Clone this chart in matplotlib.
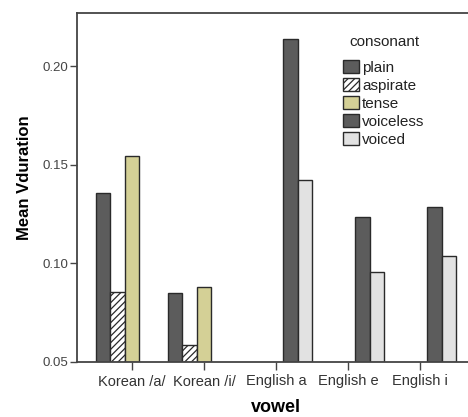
import matplotlib
matplotlib.use("Agg")
import matplotlib.pyplot as plt
from matplotlib.patches import Patch
import numpy as np

plt.rcParams['font.family'] = ['Liberation Sans', 'DejaVu Sans']
plt.rcParams['hatch.linewidth'] = 0.9

vowels = ["Korean /a/", "Korean /i/", "English a", "English e", "English i"]
consonants = ["plain", "aspirate", "tense", "voiceless", "voiced"]

# mean vowel duration per vowel and consonant type (None = no data)
plain = [0.1356, 0.0850, None, None, None]
aspirate = [0.0855, 0.0586, None, None, None]
tense = [0.1544, 0.0880, None, None, None]
voiceless = [None, None, 0.2136, 0.1235, 0.1285]
voiced = [None, None, 0.1420, 0.0956, 0.1035]

series = [plain, aspirate, tense, voiceless, voiced]
facecolors = ["#5c5c5c", "white", "#d4d096", "#5c5c5c", "#e2e2e2"]
hatches = [None, "/////", None, None, None]
edge = "#2a2a2a"
base = 0.05

W, H = 468, 417
fig = plt.figure(figsize=(W / 100, H / 100), dpi=100)
ax = fig.add_axes([77 / W, 55 / H, 1 - 77 / W, (362 - 13) / H])

x = np.arange(len(vowels))
width = 0.2
for i, (vals, fc, h) in enumerate(zip(series, facecolors, hatches)):
    for xi, v in zip(x, vals):
        if v is None:
            continue
        ax.bar(xi + (i - 2) * width, v - base, width, bottom=base,
               facecolor=fc, edgecolor=edge, linewidth=1.0, hatch=h)

ax.set_xlim(-0.764, 4.667)
ax.set_ylim(0.05, 0.2269)
ax.set_yticks([0.05, 0.10, 0.15, 0.20])
ax.set_yticklabels(["0.05", "0.10", "0.15", "0.20"])
ax.set_xticks(x)
ax.set_xticklabels(vowels)

for s in ["left", "bottom", "top"]:
    ax.spines[s].set_color("#444444")
    ax.spines[s].set_linewidth(1.3)
ax.spines["right"].set_visible(False)
ax.tick_params(axis="y", direction="out", length=5, width=1.0, color="#444444",
               labelsize=9.5, labelcolor="#444444", pad=1)
ax.tick_params(axis="x", direction="out", length=6, width=1.0, color="#444444",
               labelsize=10.5, labelcolor="#333333", pad=3)

ax.set_xlabel("vowel", fontsize=13, fontweight="bold")
ax.set_ylabel("Mean Vduration", fontsize=12, fontweight="bold")
ax.xaxis.set_label_coords((276 - 77) / (W - 77), -(407 - 362) / (362 - 13))
ax.xaxis.label.set_va("center")
ax.yaxis.set_label_coords(-(77 - 25) / (W - 77), (362 - 178) / (362 - 13))
ax.yaxis.label.set_va("center")

handles = [Patch(facecolor=fc, edgecolor=edge, hatch=h, linewidth=1.0)
           for fc, h in zip(facecolors, hatches)]
leg = ax.legend(handles, consonants, frameon=False,
                loc="upper left", bbox_to_anchor=(340 / W, 1 - 57 / H),
                bbox_transform=fig.transFigure, fontsize=11,
                handlelength=1.05, handleheight=0.9, handletextpad=0.2,
                labelspacing=0.22, borderpad=0.2, borderaxespad=0)
for t in leg.get_texts():
    t.set_color("#222222")
fig.text(384 / W, 1 - 42 / H, "consonant", fontsize=11, color="#222222",
         ha="center", va="center")

fig.savefig("out.png", dpi=100)
